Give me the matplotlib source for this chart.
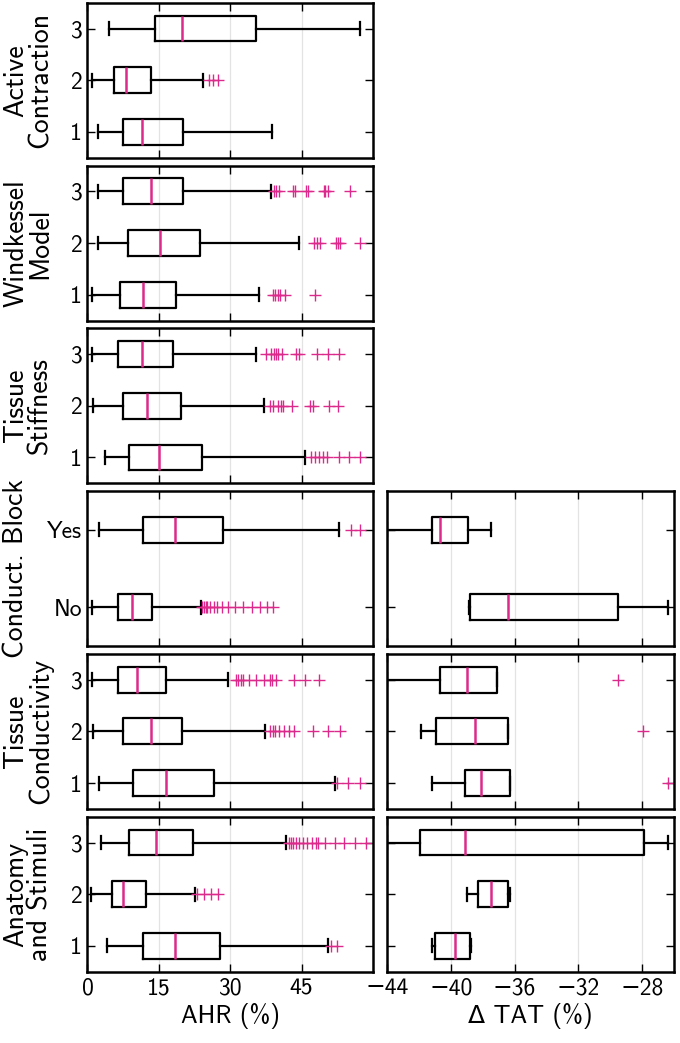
import matplotlib
matplotlib.use("Agg")
import matplotlib.pyplot as plt

plt.rcParams['font.family'] = ['cmss10', 'DejaVu Sans']
plt.rcParams['axes.unicode_minus'] = True
plt.rcParams['mathtext.fontset'] = 'cm'

PINK = '#dc2a8c'

# five-number summaries: (whisker low, q1, median, q3, whisker high)
# left column: AHR (%)
active_lbl = ['1', '2', '3']
active_stats = [[2.3, 7.4, 11.4, 20.0, 38.7],
                [0.9, 5.6, 8.0, 13.3, 24.3],
                [4.5, 14.2, 19.8, 35.4, 57.2]]
active_fliers = [[], [25.6, 26.3, 27.5], []]

wk_lbl = ['1', '2', '3']
wk_stats = [[0.9, 6.8, 11.6, 18.7, 36.1],
            [2.3, 8.6, 15.2, 23.6, 44.4],
            [2.3, 7.4, 13.3, 20.0, 38.5]]
wk_fliers = [[39.0, 39.5, 40.0, 40.5, 41.5, 47.8],
             [47.6, 48.2, 48.8, 52.2, 52.6, 53.0, 57.2],
             [39.2, 39.6, 40.2, 43.2, 43.6, 46.0, 46.4, 49.6, 50.0, 50.6, 55.2]]

stiff_lbl = ['1', '2', '3']
stiff_stats = [[3.7, 8.8, 15.1, 24.0, 45.7],
               [1.2, 7.4, 12.4, 19.6, 37.1],
               [0.9, 6.5, 11.4, 18.0, 35.4]]
stiff_fliers = [[47.0, 47.8, 48.6, 49.4, 50.4, 52.8, 55.0, 57.2],
                [38.3, 39.0, 40.0, 40.6, 41.0, 43.0, 46.8, 47.4, 50.7, 52.6],
                [37.5, 38.6, 39.2, 39.6, 40.0, 40.8, 43.8, 44.5, 48.2, 50.6, 52.8]]

block_lbl = ['No', 'Yes']
block_stats = [[0.9, 6.5, 9.3, 13.6, 23.8],
               [2.5, 11.7, 18.3, 28.4, 52.9]]
block_fliers = [[24.1, 24.4, 24.8, 25.2, 25.8, 26.5, 27.2, 28.2, 29.5, 31.0,
                 32.7, 34.5, 36.3, 37.8, 39.0],
                [55.3, 57.2]]

cond_lbl = ['1', '2', '3']
cond_stats = [[2.5, 9.5, 16.5, 26.6, 52.0],
              [1.2, 7.5, 13.3, 19.8, 37.3],
              [0.9, 6.5, 10.3, 16.6, 29.6]]
cond_fliers = [[52.4, 54.8, 57.3],
               [38.3, 38.9, 39.5, 40.2, 41.3, 42.4, 43.3, 47.4, 50.5, 53.0],
               [31.2, 31.7, 32.2, 32.7, 34.0, 35.5, 37.0, 38.3, 38.7, 39.6,
                43.3, 45.8, 48.6]]

anat_lbl = ['1', '2', '3']
anat_stats = [[4.1, 11.7, 18.3, 27.8, 50.5],
              [0.8, 5.2, 7.5, 12.3, 22.5],
              [2.9, 8.7, 14.5, 22.2, 41.8]]
anat_fliers = [[51.2, 52.4],
               [23.0, 24.5, 26.0, 27.5],
               [42.3, 42.8, 43.2, 43.8, 44.4, 45.3, 46.2, 47.2, 48.0, 48.5,
                50.0, 52.0, 53.9, 56.3, 58.5]]

# right column: delta TAT (%)
tat_block_stats = [[-38.85, -38.8, -36.4, -29.5, -26.4],
                   [-44.0, -41.2, -40.7, -38.9, -37.5]]
tat_block_fliers = [[], []]

tat_cond_stats = [[-41.2, -39.1, -38.1, -36.3, -36.3],
                  [-41.85, -40.95, -38.5, -36.4, -36.4],
                  [-44.0, -40.7, -39.0, -37.1, -37.1]]
tat_cond_fliers = [[-26.4], [-27.95], [-29.5]]

tat_anat_stats = [[-41.2, -41.0, -39.75, -38.8, -38.75],
                  [-38.96, -38.3, -37.5, -36.4, -36.3],
                  [-44.0, -41.9, -39.1, -27.9, -26.4]]
tat_anat_fliers = [[], [], []]

ylabels = ['Active\nContraction', 'Windkessel\nModel', 'Tissue\nStiffness',
           'Conduct. Block', 'Tissue\nConductivity', 'Anatomy\nand Stimuli']
left_panels = [(active_lbl, active_stats, active_fliers),
               (wk_lbl, wk_stats, wk_fliers),
               (stiff_lbl, stiff_stats, stiff_fliers),
               (block_lbl, block_stats, block_fliers),
               (cond_lbl, cond_stats, cond_fliers),
               (anat_lbl, anat_stats, anat_fliers)]
right_panels = {3: (tat_block_stats, tat_block_fliers),
                4: (tat_cond_stats, tat_cond_fliers),
                5: (tat_anat_stats, tat_anat_fliers)}

ahr_ticks = [0, 15, 30, 45]
tat_ticks = [-44, -40, -36, -32, -28]


def make_stats(five, fliers):
    out = []
    for f, fl in zip(five, fliers):
        out.append(dict(whislo=f[0], q1=f[1], med=f[2], q3=f[3], whishi=f[4], fliers=fl))
    return out


def draw(ax, five, fliers, labels, xlim, xticks):
    n = len(five)
    w = 0.5 if n == 3 else 1.0 / 3
    ax.bxp(make_stats(five, fliers), positions=range(1, n + 1), widths=w,
           orientation='horizontal', manage_ticks=False,
           boxprops=dict(color='black', linewidth=1.6),
           whiskerprops=dict(color='black', linewidth=1.6),
           capprops=dict(color='black', linewidth=1.6),
           medianprops=dict(color=PINK, linewidth=1.8),
           flierprops=dict(marker='+', markeredgecolor=PINK, markersize=8,
                           markeredgewidth=1.0, linestyle='none'))
    ax.set_ylim(0.5, n + 0.5)
    ax.set_yticks(range(1, n + 1))
    if labels is not None:
        ax.set_yticklabels(labels)
    else:
        ax.set_yticklabels([])
    ax.set_xlim(*xlim)
    ax.set_xticks(xticks)
    ax.grid(axis='x', color='#e3e3e3', linewidth=0.9)
    ax.set_axisbelow(True)
    ax.tick_params(direction='in', length=6, width=1.0, top=True, right=True,
                   labelsize=17, pad=4)
    for s in ax.spines.values():
        s.set_linewidth(1.8)


fig = plt.figure(figsize=(6.8, 10.43), dpi=100)
W, H = 680.0, 1043.0
for i, (lbl, five, fl) in enumerate(left_panels):
    top = 2.7 + i * 162.8
    bottom = 1 - (top + 155) / H
    ax = fig.add_axes([87.5 / W, bottom, 285.5 / W, 155 / H])
    draw(ax, five, fl, lbl, (0, 60), ahr_ticks)
    ax.set_ylabel(ylabels[i], fontsize=20, linespacing=0.95)
    ax.yaxis.label.set_va('top')
    ax.yaxis.set_label_coords(-0.295, 0.5)
    if i < 5:
        ax.set_xticklabels([])
    else:
        ax.set_xlabel('AHR (%)', fontsize=18, labelpad=3)
    if i in right_panels:
        rfive, rfl = right_panels[i]
        axr = fig.add_axes([387 / W, bottom, 287 / W, 155 / H])
        draw(axr, rfive, rfl, None, (-44, -26), tat_ticks)
        if i < 5:
            axr.set_xticklabels([])
        else:
            axr.set_xlabel('Δ TAT (%)', fontsize=18, labelpad=3)

fig.savefig('out.png', dpi=100)
